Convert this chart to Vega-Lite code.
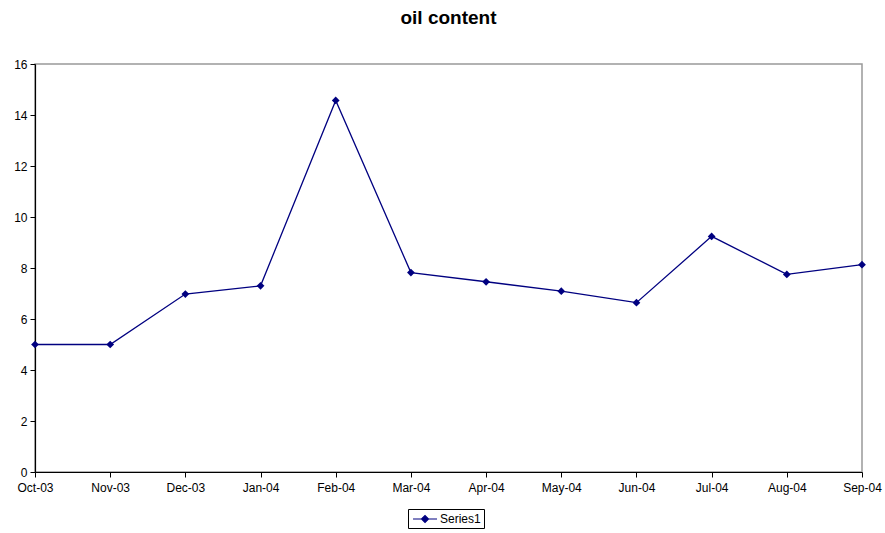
{
  "$schema": "https://vega.github.io/schema/vega-lite/v6.json",
  "width": 827,
  "height": 408,
  "autosize": {"type": "none"},
  "padding": {"left": 35, "top": 64, "right": 23, "bottom": 61},
  "background": "white",
  "title": {"text": "oil content", "fontSize": 19, "fontWeight": "bold", "font": "Liberation Sans", "color": "black", "anchor": "middle", "offset": 30},
  "config": {
    "view": {"stroke": "#999999", "strokeWidth": 1.5},
    "axis": {"labelFont": "Liberation Sans", "labelFontSize": 12, "labelColor": "black", "domainColor": "black", "tickColor": "black", "grid": false, "title": null, "tickSize": 5, "domainWidth": 1.2}
  },
  "data": {"values": [
    {"month": "Oct-03", "series": "Series1", "value": 5.0},
    {"month": "Nov-03", "series": "Series1", "value": 5.0},
    {"month": "Dec-03", "series": "Series1", "value": 6.98},
    {"month": "Jan-04", "series": "Series1", "value": 7.3},
    {"month": "Feb-04", "series": "Series1", "value": 14.57},
    {"month": "Mar-04", "series": "Series1", "value": 7.82},
    {"month": "Apr-04", "series": "Series1", "value": 7.46},
    {"month": "May-04", "series": "Series1", "value": 7.09},
    {"month": "Jun-04", "series": "Series1", "value": 6.64},
    {"month": "Jul-04", "series": "Series1", "value": 9.24},
    {"month": "Aug-04", "series": "Series1", "value": 7.75},
    {"month": "Sep-04", "series": "Series1", "value": 8.13}
  ]},
  "encoding": {
    "x": {"field": "month", "type": "ordinal", "sort": null, "scale": {"type": "point", "padding": 0}, "axis": {"labelAngle": 0, "labelPadding": 5}},
    "y": {"field": "value", "type": "quantitative", "scale": {"domain": [0, 16], "nice": false}, "axis": {"values": [0, 2, 4, 6, 8, 10, 12, 14, 16], "labelPadding": 3}}
  },
  "layer": [
    {"mark": {"type": "line", "color": "#000080", "strokeWidth": 1.3}},
    {"mark": {"type": "point", "shape": "diamond", "filled": true, "size": 60, "opacity": 1},
     "encoding": {"color": {"field": "series", "type": "nominal", "scale": {"range": ["#000080"]},
       "legend": {"title": null, "orient": "none", "legendX": 373, "legendY": 445, "strokeColor": "black", "padding": 3,
         "symbolType": "M-0.83,0H3.17M0.59,0L1.17,-0.58L1.75,0L1.17,0.58Z", "symbolSize": 144, "symbolStrokeColor": "#000080", "symbolFillColor": "#000080", "symbolStrokeWidth": 1.2,
         "labelFont": "Liberation Sans", "labelFontSize": 12, "labelColor": "black", "labelOffset": 15}}}}
  ]
}
